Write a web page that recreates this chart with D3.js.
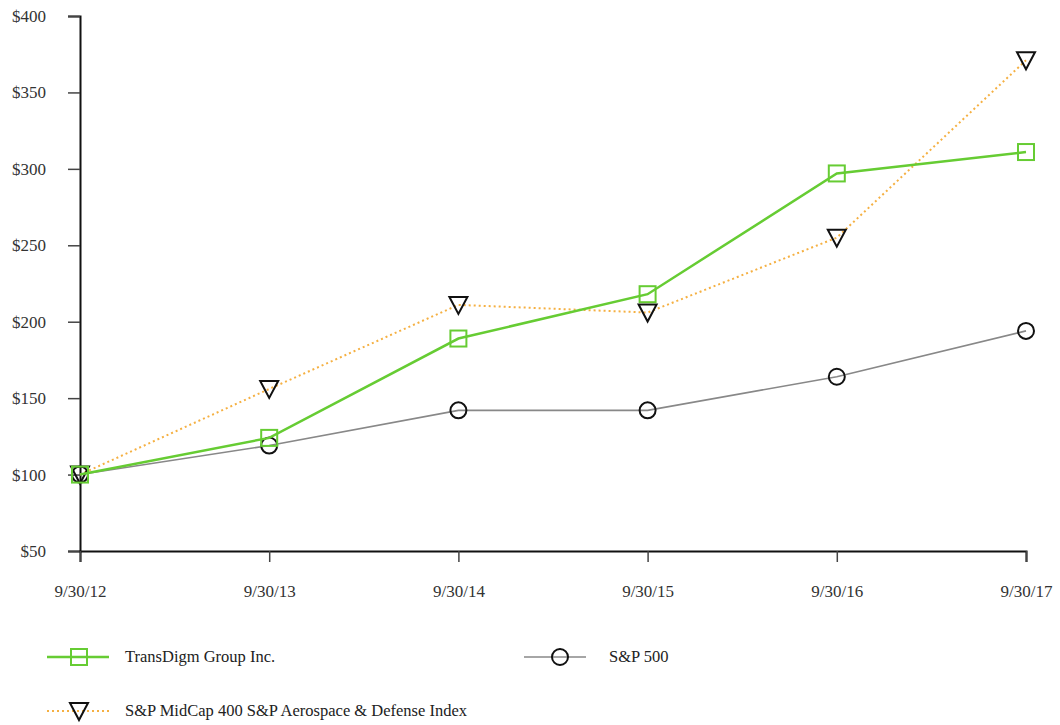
<!DOCTYPE html>
<html>
<head>
<meta charset="utf-8">
<script src="https://cdn.jsdelivr.net/npm/d3@7"></script>
<style>
body{margin:0;background:#fff;}
text{font-family:"Liberation Serif","Times New Roman",serif;}
</style>
</head>
<body>
<div id="chart"></div>
<script>
// data
var dates=["9/30/12","9/30/13","9/30/14","9/30/15","9/30/16","9/30/17"];
var transdigm=[100,124,189,218,297,311];
var sp500=[100,119,142,142,164,194];
var aerospace=[100,156,211,206,255,371];
var yTicks=[50,100,150,200,250,300,350,400];

var width=1060, height=725;
var margin={left:80,right:34,top:16,bottom:174};

var svg=d3.select("#chart").append("svg")
	.attr("width",width)
	.attr("height",height);

var x=d3.scalePoint().domain(dates).range([margin.left,width-margin.right]);
var y=d3.scaleLinear().domain([50,400]).range([height-margin.bottom,margin.top]);

// axes
var yAxis=svg.append("g")
	.attr("transform","translate("+margin.left+",0)")
	.call(d3.axisLeft(y).tickValues(yTicks).tickSize(12).tickPadding(22).tickFormat(function(d){return "$"+d;}));
var xAxis=svg.append("g")
	.attr("transform","translate(0,"+(height-margin.bottom)+")")
	.call(d3.axisBottom(x).tickSize(11).tickPadding(23));

[yAxis,xAxis].forEach(function(a){
	a.attr("font-family","'Liberation Serif',serif").attr("font-size",17);
	a.select(".domain").attr("stroke","#111").attr("stroke-width",2);
	a.selectAll(".tick line").attr("stroke","#444").attr("stroke-width",1.5);
	a.selectAll(".tick text").attr("fill","#333");
});

var series=[
	{name:"TransDigm Group Inc.",values:transdigm,color:"#66cc33",width:2.5,dash:null,marker:"square"},
	{name:"S&P 500",values:sp500,color:"#888",width:1.6,dash:null,marker:"circle"},
	{name:"S&P MidCap 400 S&P Aerospace & Defense Index",values:aerospace,color:"#f5b042",width:2,dash:"2,3",marker:"triangle"}
];

var line=d3.line().x(function(d,i){return x(dates[i]);}).y(function(d){return y(d);});

function drawMarker(g,type,cx,cy){
	if(type=="square"){
		g.append("rect").attr("x",cx-8).attr("y",cy-8).attr("width",16).attr("height",16)
			.attr("fill","none").attr("stroke","#66cc33").attr("stroke-width",2);
	}else if(type=="circle"){
		g.append("circle").attr("cx",cx).attr("cy",cy).attr("r",8)
			.attr("fill","none").attr("stroke","#111").attr("stroke-width",2);
	}else{
		g.append("path").attr("d","M"+(cx-9)+","+(cy-8)+"L"+(cx+9)+","+(cy-8)+"L"+cx+","+(cy+9)+"Z")
			.attr("fill","none").attr("stroke","#111").attr("stroke-width",2);
	}
}

// draw in order so that green sits on top like the reference
[series[1],series[2],series[0]].forEach(function(s){
	svg.append("path").datum(s.values)
		.attr("d",line)
		.attr("fill","none")
		.attr("stroke",s.color)
		.attr("stroke-width",s.width)
		.attr("stroke-dasharray",s.dash);
	var mg=svg.append("g");
	s.values.forEach(function(v,i){drawMarker(mg,s.marker,x(dates[i]),y(v));});
});

// legend
var legendPos=[{x:47,y:657},{x:524,y:657},{x:47,y:711}];
series.forEach(function(s,i){
	var p=legendPos[i];
	var lg=svg.append("g");
	lg.append("line").attr("x1",p.x).attr("x2",p.x+62).attr("y1",p.y).attr("y2",p.y)
		.attr("stroke",s.color).attr("stroke-width",s.width).attr("stroke-dasharray",s.dash);
	drawMarker(lg,s.marker,p.x+(i==1?36:32),p.y);
	lg.append("text").attr("x",p.x+(i==1?85:78)).attr("y",p.y+5)
		.attr("fill","#222").style("font-size","16.5px").text(s.name);
});
</script>
</body>
</html>
